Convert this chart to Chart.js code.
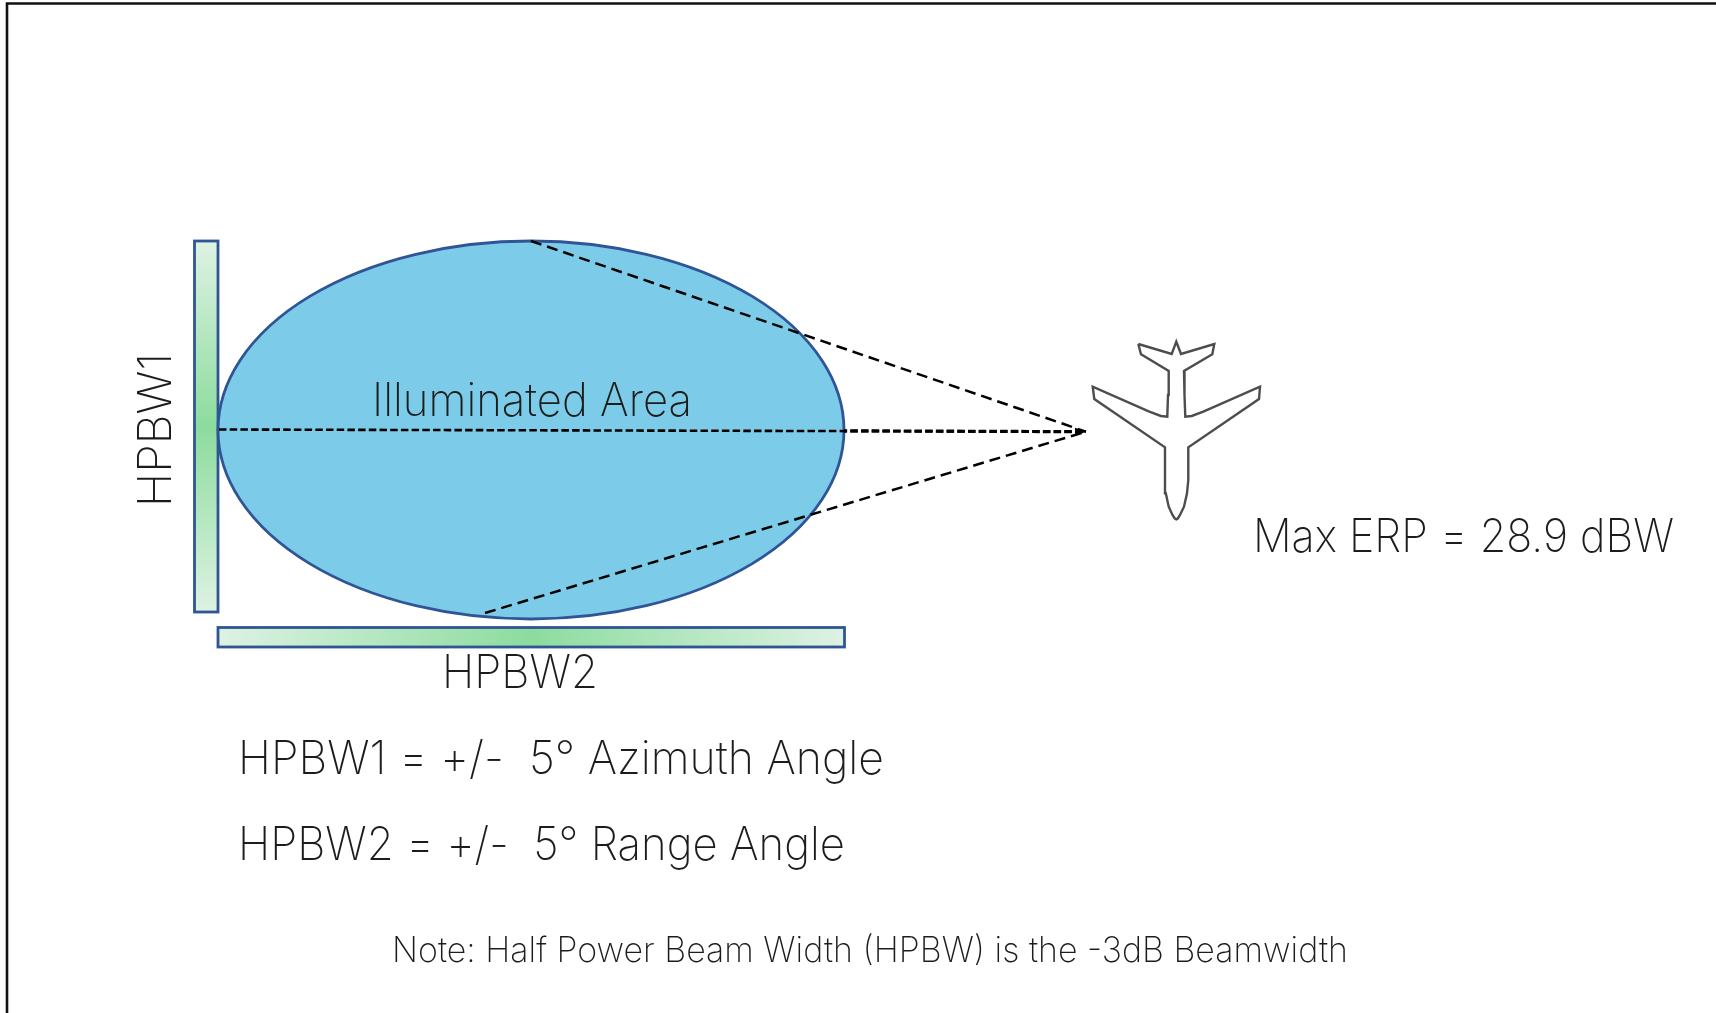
<!DOCTYPE html>
<html>
<head>
<meta charset="utf-8">
<title>HPBW illuminated area</title>
<script src="https://cdn.jsdelivr.net/npm/chart.js@4"></script>
<style>
  html, body { margin: 0; padding: 0; background: #fff; overflow: hidden; }
  canvas { display: block; }
</style>
</head>
<body>
<canvas id="diagram" width="1716" height="1013"></canvas>
<script>
// the picture is a diagram, so both axes just run in picture units
const xRange = [0, 1716];
const yRange = [0, 1013];

const frameX = [7, 7, 1716];
const frameY = [1013, 3.5, 3.5];

// ellipse: centre x, centre y, radius x, radius y
const ellipseArea = [531, 430, 313, 189];
// bars: x0, y0, x1, y1
const barVertical = [194.5, 241, 218, 612];
const barHorizontal = [218, 627.5, 844.5, 647];

const apex = [1086, 431.7];
const beamTop = [531, 241];
const beamMiddle = [219, 429.5];
const beamBottom = [485, 613];
const beamOverlay = [844, 430.8];

const planeX = [1138.3, 1171.7, 1176.3, 1181, 1214.3, 1212.3, 1184, 1184.5, 1185.3, 1191.7, 1203.3, 1260, 1259, 1188.3, 1188.3, 1187, 1184, 1180, 1177.8, 1176.3, 1174.8, 1172.5, 1168.7, 1165.8, 1165, 1165, 1094.3, 1092.7, 1149.3, 1160.9, 1167.3, 1168, 1168.7, 1141, 1138.3];
const planeY = [344, 354, 341.7, 354, 344, 354.3, 371, 395, 416.7, 416, 411.7, 386.7, 399, 447.3, 480, 493.3, 506.7, 515, 518.5, 519.3, 518.5, 515, 506.7, 493.3, 480, 447.3, 399, 386.7, 411.7, 416, 416.7, 395, 371, 354.3, 344];

const labels = ['Illuminated Area', 'HPBW2', 'HPBW1 = +/-  5° Azimuth Angle', 'HPBW2 = +/-  5° Range Angle', 'Max ERP = 28.9 dBW', 'Note: Half Power Beam Width (HPBW) is the -3dB Beamwidth'];
const labelLeft = [372, 442, 238, 238, 1253, 392];
const labelRight = [692, 598, 884, 845, 1674, 1348];
const labelBase = [416, 688, 774, 860, 552, 962];
const labelSize = [46, 46, 46, 46, 46, 35];

const rotatedLabel = 'HPBW1';
const rotatedBase = 171;
const rotatedSpan = [507, 353];

const inkColor = '#1c1c1c';
const outline = '#2f5597';

function pts(xs, ys) {
    return xs.map((x, i) => ({ x: x, y: ys[i] }));
}

function beam(from, to, width, dash, dashOffset) {
    return {
        data: [{ x: from[0], y: from[1] }, { x: to[0], y: to[1] }],
        borderColor: '#000',
        borderWidth: width,
        borderDash: dash,
        borderDashOffset: dashOffset || 0,
        showLine: true,
        pointRadius: 0
    };
}

function fittedText(ctx, text, x0, x1, base, size) {
    ctx.font = `200 ${size}px Inter`;
    const w = ctx.measureText(text).width;
    ctx.save();
    ctx.translate(x0, base);
    ctx.scale((x1 - x0) / w, 1);
    ctx.fillText(text, 0, 0);
    ctx.restore();
}

const shapesPlugin = {
    id: 'shapes',
    beforeDatasetsDraw(chart) {
        const { ctx, scales: { x, y } } = chart;

        const bar = (b, vertical) => {
            const left = x.getPixelForValue(b[0]);
            const top = y.getPixelForValue(b[1]);
            const right = x.getPixelForValue(b[2]);
            const bottom = y.getPixelForValue(b[3]);
            const g = vertical
                ? ctx.createLinearGradient(0, top, 0, bottom)
                : ctx.createLinearGradient(left, 0, right, 0);
            g.addColorStop(0, '#def2e3');
            g.addColorStop(0.5, '#8cdc9e');
            g.addColorStop(1, '#def2e3');
            ctx.fillStyle = g;
            ctx.fillRect(left, top, right - left, bottom - top);
            ctx.strokeStyle = outline;
            ctx.lineWidth = 2.8;
            ctx.strokeRect(left, top, right - left, bottom - top);
        };

        ctx.save();
        bar(barVertical, true);
        bar(barHorizontal, false);

        ctx.beginPath();
        ctx.ellipse(x.getPixelForValue(ellipseArea[0]), y.getPixelForValue(ellipseArea[1]),
            ellipseArea[2], ellipseArea[3], 0, 0, Math.PI * 2);
        ctx.fillStyle = '#7ccbe8';
        ctx.fill();
        ctx.strokeStyle = outline;
        ctx.lineWidth = 2.8;
        ctx.stroke();
        ctx.restore();
    },
    afterDatasetsDraw(chart) {
        const { ctx, scales: { x, y } } = chart;
        ctx.save();
        ctx.fillStyle = inkColor;
        ctx.textBaseline = 'alphabetic';
        labels.forEach((t, i) => {
            fittedText(ctx, t, x.getPixelForValue(labelLeft[i]), x.getPixelForValue(labelRight[i]),
                y.getPixelForValue(labelBase[i]), labelSize[i]);
        });

        // HPBW1 runs up the left side of the vertical bar
        ctx.translate(x.getPixelForValue(rotatedBase), y.getPixelForValue(rotatedSpan[0]));
        ctx.rotate(-Math.PI / 2);
        fittedText(ctx, rotatedLabel, 0, rotatedSpan[0] - rotatedSpan[1], 0, 46);
        ctx.restore();

        // small arrow tip where the beams meet
        ctx.save();
        ctx.fillStyle = '#000';
        ctx.beginPath();
        ctx.moveTo(x.getPixelForValue(apex[0]), y.getPixelForValue(apex[1]));
        ctx.lineTo(x.getPixelForValue(apex[0] - 11), y.getPixelForValue(apex[1] - 4));
        ctx.lineTo(x.getPixelForValue(apex[0] - 11), y.getPixelForValue(apex[1] + 4));
        ctx.closePath();
        ctx.fill();
        ctx.restore();
    }
};

new Chart(document.getElementById('diagram').getContext('2d'), {
    type: 'scatter',
    data: {
        datasets: [
            {
                data: pts(frameX, frameY),
                borderColor: '#111',
                borderWidth: 2.6,
                showLine: true,
                pointRadius: 0,
                clip: false
            },
            beam(beamTop, apex, 2.5, [11, 6]),
            beam(beamMiddle, apex, 2.6, [7.5, 3.2]),
            // same dash rhythm as the middle beam so the gaps stay open
            beam(beamOverlay, apex, 3.2, [7.5, 3.2], 4.4),
            beam(beamBottom, apex, 2.5, [11, 6]),
            {
                data: pts(planeX, planeY),
                borderColor: '#4d4d4d',
                borderWidth: 2.4,
                showLine: true,
                tension: 0,
                pointRadius: 0
            }
        ]
    },
    options: {
        responsive: false,
        animation: false,
        layout: { padding: 0 },
        plugins: {
            legend: { display: false },
            tooltip: { enabled: false }
        },
        scales: {
            x: { type: 'linear', display: false, min: xRange[0], max: xRange[1] },
            y: { type: 'linear', display: false, min: yRange[0], max: yRange[1], reverse: true }
        }
    },
    plugins: [shapesPlugin]
});
</script>
</body>
</html>
